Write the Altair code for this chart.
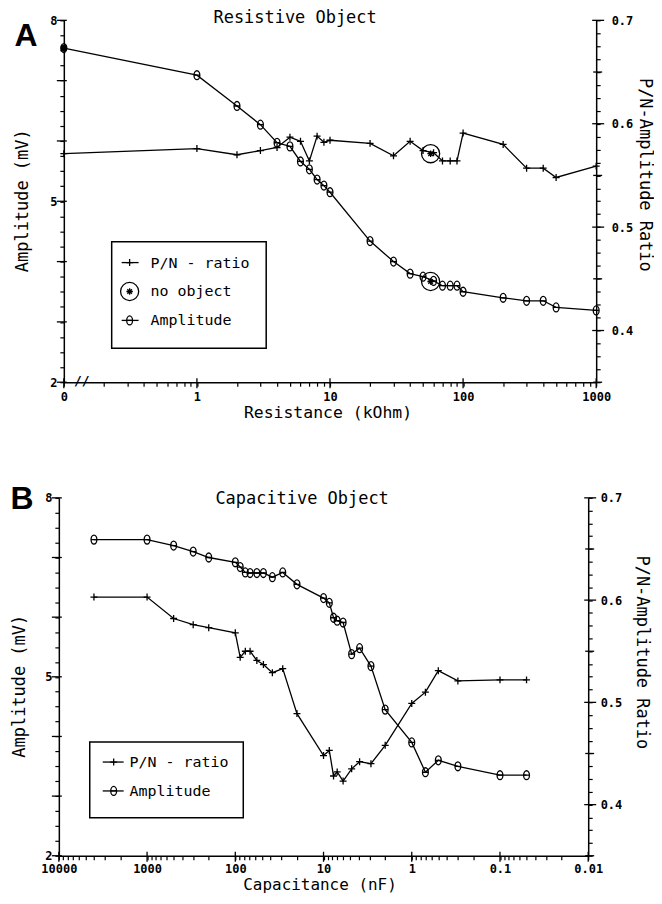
import altair as alt
import pandas as pd

MONO = "DejaVu Sans Mono"
SANS = "Liberation Sans"

# ---------------- data ----------------
# Panel A: resistive object (x in kOhm, 0 is drawn at the axis origin)
A_RES = [0, 1, 2, 3, 4, 5, 6, 7, 8, 9, 10, 20, 30, 40, 50, 60, 70, 80, 90, 100, 200, 300, 400, 500, 1000]
A_AMP = [7.54, 7.09, 6.58, 6.27, 5.97, 5.91, 5.66, 5.53, 5.36, 5.26, 5.15, 4.34, 4.00, 3.80, 3.75, 3.68,
         3.60, 3.60, 3.60, 3.50, 3.40, 3.35, 3.35, 3.24, 3.19]
A_PN = [0.571, 0.576, 0.570, 0.574, 0.577, 0.587, 0.583, 0.564, 0.588, 0.582, 0.584, 0.581, 0.569, 0.583,
        0.574, 0.572, 0.564, 0.564, 0.564, 0.591, 0.580, 0.557, 0.557, 0.548, 0.559]
A_NOOBJ_RES = [57]
A_NOOBJ_AMP = [3.67]
A_NOOBJ_PN = [0.571]

# Panel B: capacitive object (x in nF, reversed axis)
B_CAP = [4000, 1000, 500, 300, 200, 100, 88, 77, 68, 57, 48, 38, 29, 20, 10, 8.6, 7.7, 7.0, 6.0, 4.8,
         3.9, 2.9, 2.0, 1.0, 0.7, 0.5, 0.3, 0.1, 0.05]
B_AMP = [7.30, 7.30, 7.20, 7.10, 7.00, 6.92, 6.84, 6.75, 6.74, 6.74, 6.74, 6.67, 6.75, 6.55, 6.32, 6.24,
         5.99, 5.94, 5.91, 5.38, 5.48, 5.18, 4.45, 3.90, 3.40, 3.60, 3.50, 3.35, 3.35]
B_PN = [0.603, 0.603, 0.582, 0.576, 0.573, 0.568, 0.544, 0.550, 0.550, 0.541, 0.537, 0.529, 0.533, 0.489,
        0.448, 0.453, 0.428, 0.432, 0.423, 0.435, 0.442, 0.440, 0.458, 0.499, 0.510, 0.531, 0.521, 0.522, 0.522]

A_TITLE = "Resistive Object"
B_TITLE = "Capacitive Object"
A_XTITLE = "Resistance (kOhm)"
B_XTITLE = "Capacitance (nF)"
Y_TITLE = "Amplitude (mV)"
Y2_TITLE = "P/N-Amplitude Ratio"
A_LEGEND = ["P/N - ratio", "no object", "Amplitude"]
B_LEGEND = ["P/N - ratio", "Amplitude"]

# tick values
AMP_MAJOR = [2, 3, 4, 5, 6, 7, 8]
AMP_ALL = [2 + 0.25 * i for i in range(25)]
PN_MAJOR = [0.4, 0.5, 0.6, 0.7]
PN_MID = [0.35, 0.45, 0.55, 0.65]
PN_ALL = [round(0.35 + 0.0125 * i, 4) for i in range(29)]
A_X_MAJOR = [0.1, 1, 10, 100, 1000]
A_X_ALL = [round(m * 10 ** e, 4) for e in range(-1, 3) for m in range(1, 10)] + [1000]
B_X_MAJOR = [0.01, 0.1, 1, 10, 100, 1000, 10000]
B_X_ALL = [round(m * 10 ** e, 6) for e in range(-2, 4) for m in range(1, 10)] + [10000]

# ---------------- marker shapes ----------------
PLUS = "M-1,0L1,0M0,-1L0,1"
THETA = "M0,-1A0.65,1 0 1,1 0,1A0.65,1 0 1,1 0,-1ZM-0.65,0L0.65,0"
STAR = "M-1,0L1,0M0,-1L0,1M-0.7,-0.7L0.7,0.7M-0.7,0.7L0.7,-0.7"

dfA = pd.DataFrame({"res": A_RES, "amp": A_AMP, "pn": A_PN})
dfA["xpos"] = dfA["res"].clip(lower=0.1)
dfA_first = dfA.iloc[:1]
dfA_no = pd.DataFrame({"xpos": A_NOOBJ_RES, "amp": A_NOOBJ_AMP, "pn": A_NOOBJ_PN})
dfB = pd.DataFrame({"xpos": B_CAP, "amp": B_AMP, "pn": B_PN})


def arr(vals):
    return "[" + ",".join(repr(v) for v in vals) + "]"


amp_label = "datum.value == 2 || datum.value == 5 || datum.value == 8 ? format(datum.value, 'd') : ''"
pn_label = "(abs(datum.value * 10 - round(datum.value * 10)) < 0.001 && datum.value > 0.36) ? format(datum.value, '.1f') : ''"
a_x_label = f"datum.value == 0.1 ? '0' : (indexof({arr(A_X_MAJOR)}, datum.value) >= 0 ? format(datum.value, '~g') : '')"
b_x_label = f"indexof({arr(B_X_MAJOR)}, datum.value) >= 0 ? format(datum.value, '~g') : ''"


def make_axes(panel):
    common = dict(labelOverlap=False, labelFlush=False, title=None, tickSize=4)
    if panel == "A":
        xs = alt.Scale(type="log", domain=[0.1, 1000], nice=False)
        xa = alt.Axis(values=A_X_ALL, labelExpr=a_x_label, labelPadding=5, **common)
        ya = alt.Axis(orient="left", values=AMP_ALL, labelExpr=amp_label, labelPadding=3, **common)
        y2a = alt.Axis(orient="right", values=PN_ALL, labelExpr=pn_label, labelPadding=11, **common)
    else:
        xs = alt.Scale(type="log", domain=[0.01, 10000], nice=False, reverse=True, range=[-5, 526])
        xa = alt.Axis(values=B_X_ALL, labelExpr=b_x_label, labelPadding=4, **common)
        ya = alt.Axis(orient="left", values=AMP_ALL, labelExpr=amp_label, labelPadding=3, offset=5, **common)
        y2a = alt.Axis(orient="right", values=PN_ALL, labelExpr=pn_label, labelPadding=8, **common)
    ys = alt.Scale(domain=[2, 8], nice=False, zero=False)
    y2s = alt.Scale(domain=[0.35, 0.7], nice=False, zero=False)
    return xs, xa, ys, ya, y2s, y2a


def series(df, field, xs, xa, ys, ya, shape, size, line=True, filled=False):
    base = alt.Chart(df).encode(
        x=alt.X("xpos:Q", scale=xs, axis=xa),
        y=alt.Y(f"{field}:Q", scale=ys, axis=ya),
    )
    pts = base.mark_point(shape=shape, size=size, filled=filled, color="black", strokeWidth=1.3, opacity=1)
    if line:
        return [base.mark_line(color="black", strokeWidth=1.3), pts]
    return [pts]


def yticks(values, ys, ya, x1, x2):
    return alt.Chart(pd.DataFrame({"v": values})).mark_rule(color="black", strokeWidth=1.3).encode(
        y=alt.Y("v:Q", scale=ys, axis=ya), x=alt.value(x1), x2=alt.value(x2))


def xticks(values, xs, xa, y1, y2):
    return alt.Chart(pd.DataFrame({"v": values})).mark_rule(color="black", strokeWidth=1.3).encode(
        x=alt.X("v:Q", scale=xs, axis=xa), y=alt.value(y1), y2=alt.value(y2))


def txt(s, x, y, size, font=MONO, weight="normal", angle=0, align="center", baseline="middle"):
    return alt.Chart(pd.DataFrame({"t": [s]})).mark_text(
        font=font, fontSize=size, fontWeight=weight, angle=angle, align=align, baseline=baseline, color="black"
    ).encode(x=alt.value(x), y=alt.value(y), text="t:N")


def rule(x1, x2, y):
    return alt.Chart(pd.DataFrame({"a": [0]})).mark_rule(color="black", strokeWidth=1.3).encode(
        x=alt.value(x1), x2=alt.value(x2), y=alt.value(y))


def sym(shape, x, y, size, filled=False):
    return alt.Chart(pd.DataFrame({"a": [0]})).mark_point(
        shape=shape, size=size, filled=filled, color="black", strokeWidth=1.3, opacity=1
    ).encode(x=alt.value(x), y=alt.value(y))


def box(x1, y1, x2, y2):
    return alt.Chart(pd.DataFrame({"a": [0]})).mark_rect(
        fill="white", fillOpacity=0, stroke="black", strokeWidth=1.5
    ).encode(x=alt.value(x1), x2=alt.value(x2), y=alt.value(y1), y2=alt.value(y2))


# ---------------- panel A ----------------
WA, HA = 534, 363
xs, xa, ys, ya, y2s, y2a = make_axes("A")
ampA = alt.layer(
    *series(dfA, "amp", xs, xa, ys, ya, THETA, 81),
    *series(dfA_first, "amp", xs, xa, ys, ya, "circle", 45, line=False, filled=True),
    *series(dfA_no, "amp", xs, xa, ys, ya, "circle", 330, line=False),
    *series(dfA_no, "amp", xs, xa, ys, ya, STAR, 42, line=False),
    yticks(AMP_MAJOR, ys, ya, 3, -7),
)
pnA = alt.layer(
    *series(dfA, "pn", xs, xa, y2s, y2a, PLUS, 49),
    *series(dfA_no, "pn", xs, xa, y2s, y2a, "circle", 330, line=False),
    *series(dfA_no, "pn", xs, xa, y2s, y2a, STAR, 42, line=False),
    yticks(PN_MAJOR, y2s, y2a, WA - 4, WA + 8),
    yticks(PN_MID, y2s, y2a, WA - 3, WA + 6),
)
decoA = [
    xticks(A_X_MAJOR, xs, xa, HA - 4, HA + 6),
    txt("A", -38, 16, 32, font=SANS, weight="bold"),
    txt(A_TITLE, 232, -2, 17),
    txt(Y_TITLE, -41, 181, 17, angle=270),
    txt(A_XTITLE, 265, 393.5, 16.5),
    txt(Y2_TITLE, 582.5, 155, 17, angle=90),
    txt("//", 18, HA - 1, 13, weight="bold"),
    box(48, 222, 203, 329),
    rule(58, 75, 243), sym(PLUS, 66, 243, 49), txt(A_LEGEND[0], 87, 243, 15, align="left"),
    sym("circle", 66, 272, 330), sym(STAR, 66, 272, 42), txt(A_LEGEND[1], 87, 272, 15, align="left"),
    rule(58, 75, 301), sym(THETA, 66, 301, 81), txt(A_LEGEND[2], 87, 301, 15, align="left"),
]
panelA = alt.layer(ampA, pnA, *decoA).resolve_scale(y="independent").properties(width=WA, height=HA)

# ---------------- panel B ----------------
WB, HB = 526, 359
xs, xa, ys, ya, y2s, y2a = make_axes("B")
ampB = alt.layer(
    *series(dfB, "amp", xs, xa, ys, ya, THETA, 81),
    yticks(AMP_MAJOR, ys, ya, -2, -12),
)
pnB = alt.layer(
    *series(dfB, "pn", xs, xa, y2s, y2a, PLUS, 49),
    yticks(PN_MAJOR, y2s, y2a, WB - 4, WB + 8),
    yticks(PN_MID, y2s, y2a, WB - 3, WB + 6),
)
decoB = [
    xticks(B_X_MAJOR, xs, xa, HB - 4, HB + 6),
    txt("B", -42, 1, 32, font=SANS, weight="bold"),
    txt(B_TITLE, 239, 1, 17),
    txt(Y_TITLE, -44, 189, 17, angle=270),
    txt(B_XTITLE, 257, 388, 16),
    txt(Y2_TITLE, 580, 155, 17, angle=90),
    box(26, 245, 180, 321),
    rule(39, 60, 265), sym(PLUS, 50, 265, 49), txt(B_LEGEND[0], 66, 265, 15, align="left"),
    rule(39, 60, 294), sym(THETA, 50, 294, 81), txt(B_LEGEND[1], 66, 294, 15, align="left"),
]
panelB = alt.layer(ampB, pnB, *decoB).resolve_scale(y="independent").properties(width=WB, height=HB)

chart = alt.vconcat(panelA, panelB, spacing=116, bounds="flush").properties(
    padding={"left": 2, "top": 0, "right": 0, "bottom": 0}
).configure_view(stroke=None).configure_axis(
    domainColor="black", domainWidth=1.5, tickColor="black", tickWidth=1.2,
    labelColor="black", labelFont=MONO, labelFontSize=12, labelFontWeight="bold", grid=False
)

chart.save("out.html", embed_options={"renderer": "svg", "actions": False})
